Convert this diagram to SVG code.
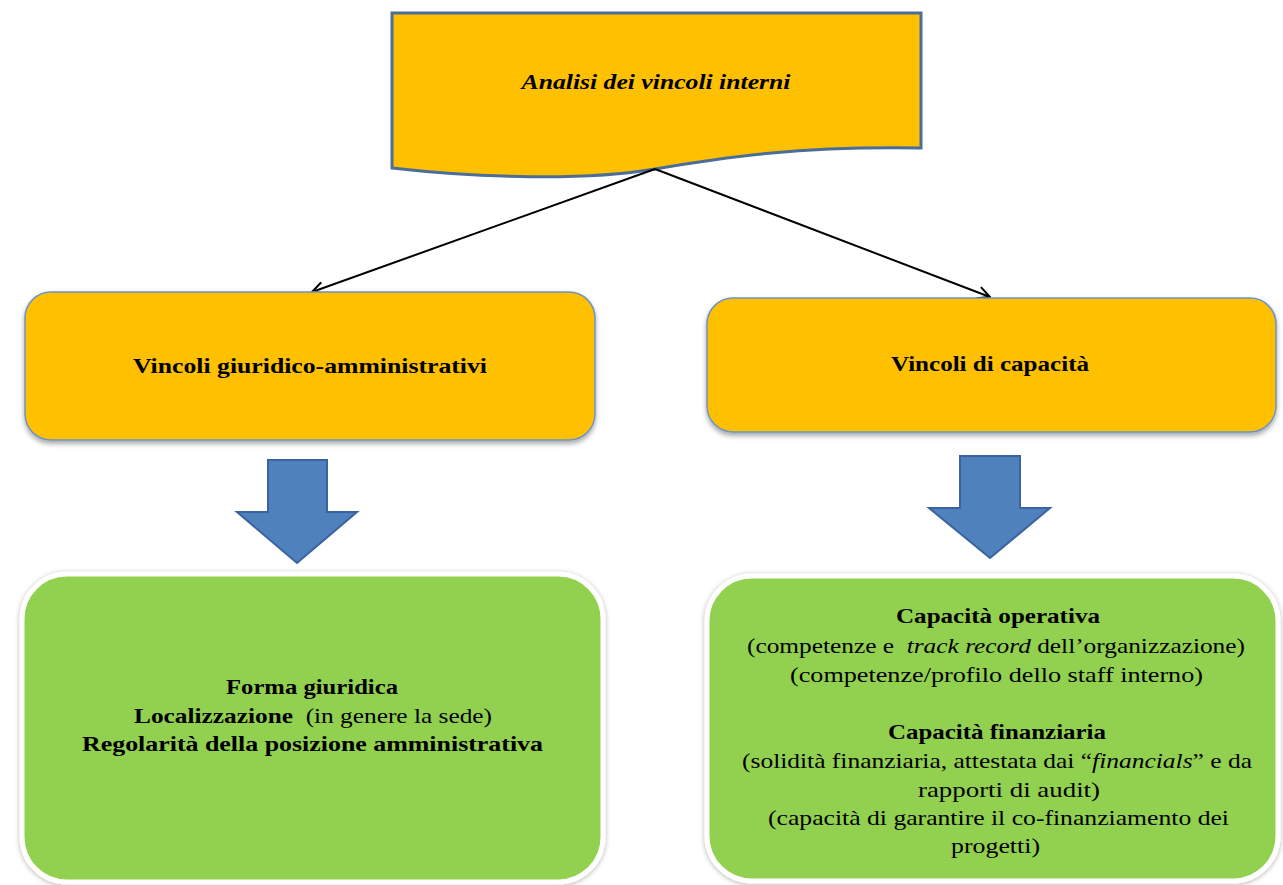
<svg xmlns="http://www.w3.org/2000/svg" width="1283" height="885" viewBox="0 0 1283 885">
<style>
.t{font-family:"Liberation Serif","Times New Roman",serif;font-size:21px;fill:#000;text-anchor:middle;white-space:pre}
.b{font-weight:bold}
.i{font-style:italic}
.orange{fill:#FFC000;stroke:#6F93C6;stroke-width:1.5}
.green{fill:#92D050;stroke:#FFFFFF;stroke-width:5}
.barrow{fill:#4F81BD;stroke:#3A63A0;stroke-width:2}
.conn{stroke:#000;stroke-width:2;fill:none}
</style>
<defs>
<marker id="open" viewBox="0 0 14 14" refX="13" refY="7" markerWidth="14" markerHeight="14" markerUnits="userSpaceOnUse" orient="auto">
<path d="M1,1 L13,7 L1,13" fill="none" stroke="#000" stroke-width="2"/>
</marker>
<filter id="sh" x="-5%" y="-5%" width="110%" height="115%">
<feDropShadow dx="0" dy="3" stdDeviation="2.5" flood-color="#000" flood-opacity="0.35"/>
</filter>
<filter id="glow" x="-5%" y="-5%" width="110%" height="110%">
<feDropShadow dx="0" dy="1" stdDeviation="2.5" flood-color="#000" flood-opacity="0.3"/>
</filter>
</defs>
<rect width="1283" height="885" fill="#fff"/>

<g id="top">
<path d="M392,13 L921,13 L921,148 C800,146 725,157 655,169 C585,181 480,178 392,168 Z" fill="#FFC000" stroke="#4A6D9A" stroke-width="3"/>
<text class="t b i" x="656" y="89" textLength="269" lengthAdjust="spacingAndGlyphs">Analisi dei vincoli interni</text>
</g>

<g id="connectors">
<line class="conn" x1="655" y1="169" x2="312" y2="292" marker-end="url(#open)"/>
<line class="conn" x1="655" y1="169" x2="990" y2="297" marker-end="url(#open)"/>
<polygon class="barrow" points="268,460 327,460 327,512 357,512 297,563 237,512 268,512"/>
<polygon class="barrow" points="960,456 1020,456 1020,508 1050,508 990,558 929,508 960,508"/>
</g>

<g id="vincoli-giuridici">
<rect class="orange" x="25" y="292" width="570" height="148" rx="26" filter="url(#sh)"/>
<text class="t b" x="310" y="373" textLength="354" lengthAdjust="spacingAndGlyphs">Vincoli giuridico-amministrativi</text>
</g>

<g id="vincoli-capacita">
<rect class="orange" x="707" y="298" width="569" height="134" rx="26" filter="url(#sh)"/>
<text class="t b" x="990" y="371" textLength="198" lengthAdjust="spacingAndGlyphs">Vincoli di capacità</text>
</g>

<g id="dettaglio-giuridico">
<rect class="green" x="22" y="574" width="581" height="308" rx="45" filter="url(#glow)"/>
<text class="t b" x="312" y="694" textLength="172" lengthAdjust="spacingAndGlyphs">Forma giuridica</text>
<text class="t" x="313" y="723" textLength="358" lengthAdjust="spacingAndGlyphs" xml:space="preserve"><tspan class="b">Localizzazione</tspan>  (in genere la sede)</text>
<text class="t b" x="312.5" y="751" textLength="461" lengthAdjust="spacingAndGlyphs">Regolarità della posizione amministrativa</text>
</g>

<g id="dettaglio-capacita">
<rect class="green" x="707" y="576" width="571" height="305" rx="45" filter="url(#glow)"/>
<text class="t b" x="998" y="623" textLength="204" lengthAdjust="spacingAndGlyphs">Capacità operativa</text>
<text class="t" x="996" y="653" textLength="498" lengthAdjust="spacingAndGlyphs" xml:space="preserve">(competenze e  <tspan class="i">track record</tspan> dell’organizzazione)</text>
<text class="t" x="996.5" y="682" textLength="413" lengthAdjust="spacingAndGlyphs">(competenze/profilo dello staff interno)</text>
<text class="t b" x="997" y="739" textLength="218" lengthAdjust="spacingAndGlyphs">Capacità finanziaria</text>
<text class="t" x="997" y="768" textLength="510" lengthAdjust="spacingAndGlyphs">(solidità finanziaria, attestata dai “<tspan class="i">financials</tspan>” e da</text>
<text class="t" x="1009" y="797" textLength="182" lengthAdjust="spacingAndGlyphs">rapporti di audit)</text>
<text class="t" x="998.5" y="825" textLength="461" lengthAdjust="spacingAndGlyphs">(capacità di garantire il co-finanziamento dei</text>
<text class="t" x="995.5" y="853" textLength="89" lengthAdjust="spacingAndGlyphs">progetti)</text>
</g>
</svg>
